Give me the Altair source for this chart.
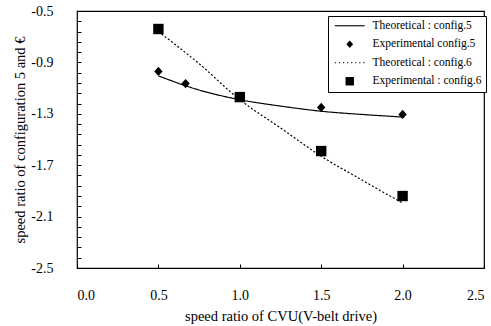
import altair as alt
import pandas as pd

series_names = ["Theoretical : config.5", "Experimental config.5",
                "Theoretical : config.6", "Experimental : config.6"]

theo_x = [0.5, 0.75, 1.0, 1.25, 1.5, 1.75, 2.0]
theo5_y = [-1.005, -1.115, -1.19, -1.24, -1.28, -1.305, -1.325]
theo6_y = [-0.66, -0.91, -1.19, -1.41, -1.63, -1.815, -1.995]

exp5_x = [0.5, 0.667, 1.0, 1.5, 2.0]
exp5_y = [-0.97, -1.065, -1.17, -1.25, -1.305]
exp6_x = [0.5, 1.0, 1.5, 2.0]
exp6_y = [-0.64, -1.17, -1.59, -1.94]

x_ticks = [0.0, 0.5, 1.0, 1.5, 2.0, 2.5]
y_major = [-25, -21, -17, -13, -9, -5]
y_ticks = [-2.5, -2.42, -2.34, -2.26, -2.18, -2.1, -2.02, -1.94, -1.86, -1.78,
           -1.7, -1.62, -1.54, -1.46, -1.38, -1.3, -1.22, -1.14, -1.06, -0.98,
           -0.9, -0.82, -0.74, -0.66, -0.58, -0.5]

lines = pd.DataFrame({
    "x": theo_x + theo_x,
    "y": theo5_y + theo6_y,
    "series": [series_names[0]] * len(theo_x) + [series_names[2]] * len(theo_x),
})
points = pd.DataFrame({
    "x": exp5_x + exp6_x,
    "y": exp5_y + exp6_y,
    "series": [series_names[1]] * len(exp5_x) + [series_names[3]] * len(exp6_x),
})

FONT = "Liberation Serif"

xs = alt.Scale(domain=[0, 2.5], nice=False, zero=False)
ys = alt.Scale(domain=[-2.5, -0.5], nice=False, zero=False)

# legend glyphs (custom symbol paths in unit coordinates)
SOLID = "M-4.6,-0.17H4.6V0.17H-4.6Z"
DOTTED = " ".join(
    "M{:.2f},-0.17h0.4v0.34h-0.4Z".format(-4.6 + 1.25 * k) for k in range(8)
)
DIAMOND = "M0,-1.15L1.05,0L0,1.15L-1.05,0Z"
SQUARE = "M-1.3,-1.3H1.3V1.3H-1.3Z"
shape_scale = alt.Scale(domain=series_names, range=[SOLID, DIAMOND, DOTTED, SQUARE])
dash_scale = alt.Scale(domain=series_names, range=[[1, 0], [1, 0], [2, 2], [1, 0]])

label_expr = ("indexof(" + str(y_major) + ", round(datum.value*10)) >= 0 && "
              "abs(datum.value*10 - round(datum.value*10)) < 0.01 ? "
              "replace(format(datum.value, '.1f'), '\u2212', '-') : ''")

x_enc = alt.X("x:Q", scale=xs, title="speed ratio of CVU(V-belt drive)",
              axis=alt.Axis(values=x_ticks, labelExpr="replace(format(datum.value, '.1f'), '\u2212', '-')",
                            domain=False, grid=False,
                            tickSize=4, offset=-4, labelPadding=20, titlePadding=7,
                            tickColor="black"))
y_enc = alt.Y("y:Q", scale=ys, title="speed ratio of configuration 5 and €",
              axis=alt.Axis(values=y_ticks, domain=False, grid=False,
                            labelExpr=label_expr,
                            labelOverlap=False, tickSize=4, offset=-4, labelPadding=24,
                            titlePadding=3, tickColor="black"))

leg = alt.Legend(
    title=None, orient="none", legendX=251, legendY=5,
    strokeColor="black", fillColor="white", padding=4,
    labelFont=FONT, labelFontSize=11.5, labelColor="black",
    symbolFillColor="black", symbolStrokeColor="black", symbolStrokeWidth=1,
    symbolSize=42, symbolOffset=12, labelOffset=17, rowPadding=5.5,
)

line_layer = alt.Chart(lines).mark_line(color="black", strokeWidth=1.2, interpolate="monotone").encode(
    x=x_enc, y=y_enc,
    strokeDash=alt.StrokeDash("series:N", scale=dash_scale, legend=leg),
    detail="series:N",
)

point_layer = alt.Chart(points).mark_point(filled=True, color="black", opacity=1, size=64).encode(
    x=x_enc, y=y_enc,
    shape=alt.Shape("series:N", scale=shape_scale, legend=leg),
    strokeDash=alt.StrokeDash("series:N", scale=dash_scale, legend=leg),
)

chart = alt.layer(line_layer, point_layer).properties(
    width=407, height=257,
    autosize=alt.AutoSizeParams(type="none"),
    padding={"left": 77, "top": 11, "right": 7, "bottom": 58},
    background="white",
).configure_view(
    stroke="black", strokeWidth=1.2
).configure_axis(
    labelFont=FONT, titleFont=FONT, labelFontSize=14, titleFontSize=14.5,
    labelColor="black", titleColor="black", titleFontWeight="normal",
)

chart.save("out.html", embed_options={"renderer": "svg", "actions": False})
